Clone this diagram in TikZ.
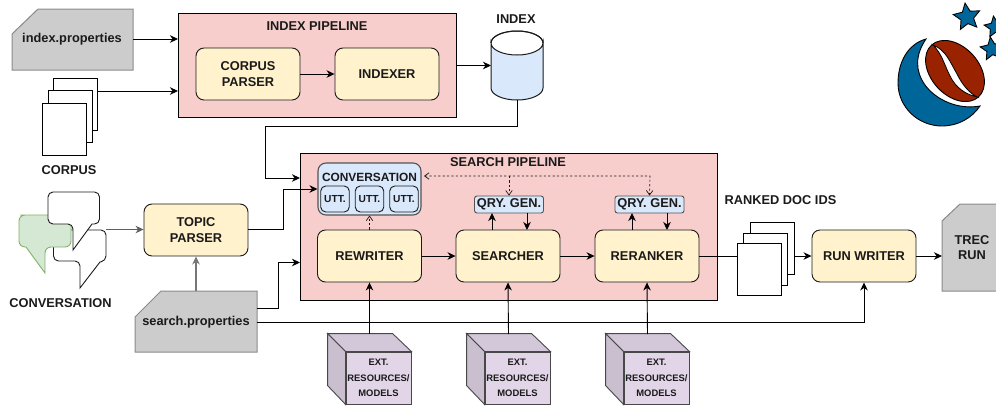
\documentclass[tikz,border=0pt]{standalone}
\usepackage{fontspec}
\setmainfont{Liberation Sans}
\usetikzlibrary{arrows.meta,calc,shapes.geometric}
\definecolor{ink}{HTML}{1A1A1A}
\definecolor{pinkF}{HTML}{F8CECC}
\definecolor{yelF}{HTML}{FFF2CC}
\definecolor{bluF}{HTML}{DAE8FC}
\definecolor{grayF}{HTML}{CCCCCC}
\definecolor{grayL}{HTML}{8A8A8A}
\definecolor{purF}{HTML}{E1D5E7}
\definecolor{purT}{HTML}{D3C8DA}
\definecolor{purS}{HTML}{C9BFCF}
\definecolor{greF}{HTML}{D5E8D4}
\definecolor{greL}{HTML}{82B366}
\definecolor{logoB}{HTML}{006699}
\definecolor{logoR}{HTML}{992200}
\tikzset{
  x=1pt,y=-1pt,
  lab/.style={font=\fontsize{12.8}{14.5}\selectfont\bfseries,text=ink,align=center,inner sep=0pt},
  pipe/.style={draw=black,fill=pinkF,line width=0.9pt,inner sep=0pt},
  proc/.style={lab,draw=ink,fill=yelF,rounded corners=8pt,line width=0.9pt,minimum width=104pt,minimum height=52pt},
  qry/.style={lab,draw=ink!75,fill=bluF,rounded corners=2.5pt,line width=0.9pt,minimum width=69pt,minimum height=17pt},
  utt/.style={lab,font=\fontsize{10.2}{11}\selectfont\bfseries,draw=ink,fill=bluF,rounded corners=5pt,line width=0.9pt,minimum width=28.5pt,minimum height=26pt},
  doc/.style={draw=black,fill=white,line width=0.9pt,inner sep=0pt,minimum width=44pt,minimum height=52pt},
  card/.style={fill=grayF,draw=grayL,line width=1pt},
  ext/.style={lab,font=\fontsize{9.4}{15.5}\selectfont\bfseries,draw=ink!80,fill=purF,line width=0.9pt,minimum width=65pt,minimum height=52pt},
  link/.style={draw=black,line width=0.9pt,-{Stealth[length=8pt,width=7.5pt,inset=2.5pt]}},
  glink/.style={link,draw=ink!70},
  dlink/.style={draw=ink,line width=0.7pt,dash pattern=on 2.2pt off 2.2pt},
  star5/.style={star,star points=5,star point ratio=2.1,fill=logoB,draw=black,line width=0.9pt,inner sep=0pt,minimum size=#1},
}
\begin{document}
\begin{tikzpicture}
\clip (0,0) rectangle (996,405);
% pipelines
\node[pipe,minimum width=278pt,minimum height=104pt] (indexpipe) at (317,65) {};
\node[lab] (indextitle) at (317,26) {INDEX PIPELINE};
\node[pipe,minimum width=417pt,minimum height=147pt] (searchpipe) at (508.5,226.5) {};
\node[lab] (searchtitle) at (508,162) {SEARCH PIPELINE};
% index.properties
\draw[card] (12,34) -- (38,9) -- (133,9) -- (133,70) -- (12,70) -- cycle;
\node[lab] (ip) at (72,39.5) {index.properties};
% corpus docs
\node[doc] (c3) at (75,104) {};
\node[doc] (c2) at (70,116) {};
\node[doc] (c1) at (64,129) {};
\node[lab] (corpuslab) at (69,170) {CORPUS};
% index pipeline contents
\node[proc] (corpusparser) at (248,74) {CORPUS\\[1pt]PARSER};
\node[proc] (indexer) at (387,74) {INDEXER};
% cylinder
\coordinate (idxL) at (491,65.5);
\coordinate (idxB) at (517,100);
\draw[fill=bluF,draw=ink,line width=1pt] (491,43) arc[start angle=180,end angle=360,x radius=26,y radius=-12]
  -- (543,88) arc[start angle=0,end angle=-180,x radius=26,y radius=-12] -- cycle;
\draw[draw=ink,line width=1pt] (491,43) arc[start angle=180,end angle=0,x radius=26,y radius=-12];
\draw[draw=ink,line width=1pt] (491,43) arc[start angle=180,end angle=360,x radius=26,y radius=12];
\node[lab] (indexlab) at (516,19) {INDEX};
% conversation icon
\draw[draw=ink,fill=white,line width=0.9pt,rounded corners=5pt] (53.5,245) -- (53.5,261) -- (80,261)
  [sharp corners] -- (80,288) -- (100,262)
  [rounded corners=5pt] -- (106,261) -- (106,230) -- (53.5,230) -- cycle;
\draw[draw=greL,fill=greF,line width=0.9pt] (26,215) -- (64,215) [rounded corners=6pt] -- (71,215) -- (71,247) -- (45,247)
  [sharp corners] -- (45,273) -- (26,247) [rounded corners=6pt] -- (19,247) -- (19,215) -- cycle;
\draw[draw=ink,fill=white,line width=0.9pt,rounded corners=5pt] (48,205) -- (48,224) -- (73,224)
  [sharp corners] -- (73,250) -- (92,224)
  [rounded corners=5pt] -- (99.5,224) -- (99.5,192) -- (48,192) -- cycle;
\coordinate (bubbleout) at (106,229.5);
\node[lab] (convlab) at (60.5,303) {CONVERSATION};
% topic parser & search.properties
\node[proc] (topic) at (196,230) {TOPIC\\[1pt]PARSER};
\draw[card] (135,317) -- (161,291) -- (257,291) -- (257,352) -- (135,352) -- cycle;
\node[lab] (sp) at (196,322) {search.properties};
\coordinate (spT) at (196,291);
\coordinate (spU) at (257,308);
\coordinate (spD) at (257,322);
% conversation box
\node[draw=ink!75,fill=bluF,rounded corners=8pt,line width=1.1pt,minimum width=103pt,minimum height=52pt,inner sep=0pt] (conv) at (369.5,189) {};
\node[lab,font=\fontsize{11.9}{13}\selectfont\bfseries] (convt) at (369.5,177) {CONVERSATION};
\node[utt] (u1) at (335,199) {UTT.};
\node[utt] (u2) at (369.5,199) {UTT.};
\node[utt] (u3) at (404,199) {UTT.};
% processors
\node[proc] (rewriter) at (369.5,256) {REWRITER};
\node[proc] (searcher) at (508,256) {SEARCHER};
\node[proc] (reranker) at (647,256) {RERANKER};
\node[qry] (q1) at (509,204.5) {QRY. GEN.};
\node[qry] (q2) at (649.5,204.5) {QRY. GEN.};
% ranked docs
\node[doc] (r3) at (772,248) {};
\node[doc] (r2) at (765,259) {};
\node[doc] (r1) at (759,269) {};
\node[lab] (rankedlab) at (780.5,200) {RANKED DOC IDS};
\node[proc] (runwriter) at (864,256) {RUN WRITER};
% TREC run
\draw[card] (942,221) -- (960,204) -- (1003,204) -- (1003,291) -- (942,291) -- cycle;
\node[lab] (trec) at (972,247.5) {TREC\\[1pt]RUN};
% cubes
\foreach \n/\cx in {a/378.5,b/517.5,c/656.5}{
  \node[ext] (ext\n) at (\cx,378) {EXT.\\RESOURCES/\\MODELS};
  \draw[draw=ink!80,fill=purT,line width=0.9pt] (ext\n.north west) -- ++(-18,-18) -- ++(65,0) -- (ext\n.north east) -- cycle;
  \draw[draw=ink!80,fill=purS,line width=0.9pt] (ext\n.north west) -- ++(-18,-18) -- ++(0,52) -- (ext\n.south west) -- cycle;
}
% connectors
\draw[link] (133,39) -- (178,39);
\draw[link] (97,91) -- (178,91);
\draw[link] (corpusparser) -- (indexer);
\draw[link] (457,65.5) -- (idxL);
\draw[link] (idxB) -- (517,126) -- (265.5,126) -- (265.5,178) -- (300,178);
\draw[glink] (bubbleout) -- (topic.west |- bubbleout);
\draw[link] (248,229.5) -- (283,229.5) -- (283,189) -- (conv.west);
\draw[link,draw=ink!60,line width=1.2pt] (spT) -- (topic.south);
\draw[link] (spU) -- (278,308) -- (278,262.5) -- (300,262.5);
\draw[link] (spD) -- (864,322) -- (runwriter.south);
\draw[link] (rewriter) -- (searcher);
\draw[link] (searcher) -- (reranker);
\draw[link] (369.5,334) -- (rewriter.south);
\draw[link] (508.5,334) -- (searcher.south);
\draw[link] (647.5,334) -- (reranker.south);
\draw[link] (492,230) -- (492,213);
\draw[link] (527,213) -- (527,230);
\draw[link] (632,230) -- (632,213);
\draw[link] (667,213) -- (667,230);
\draw[draw=black,line width=0.9pt] (reranker.east) -- (r1.west |- reranker.east);
\draw[link] (794,256) -- (runwriter.west);
\draw[link] (runwriter.east) -- (942,256);
% dashed
\draw[dlink,-{Straight Barb[length=4.5pt,width=6.5pt]}] (rewriter.north) -- (conv.south);
\draw[dlink,{Straight Barb[length=4.5pt,width=6.5pt]}-{Straight Barb[length=4.5pt,width=6.5pt]}] (424,176) -- (650,176) -- (q2.north);
\draw[dlink,-{Straight Barb[length=4.5pt,width=6.5pt]}] (509,176) -- (q1.north);
% logo
\draw[fill=logoB,draw=black,line width=0.9pt] (926,39)
  .. controls (908,44) and (898,62) .. (898,83)
  .. controls (898,107) and (918,126) .. (942,126)
  .. controls (958,126) and (972,118) .. (980,106)
  .. controls (958,110) and (936,100) .. (925,85)
  .. controls (915,71) and (915,55) .. (926,39) -- cycle;
\draw[fill=logoR,draw=black,line width=0.9pt,rotate around={-48:(955,71)}] (955,71) ellipse[x radius=35,y radius=24];
\draw[fill=white,draw=black,line width=0.8pt] (933,45)
  .. controls (946,50) and (950,62) .. (957,74)
  .. controls (962,84) and (968,92) .. (977,97)
  .. controls (965,94) and (956,88) .. (950,76)
  .. controls (944,64) and (942,54) .. (933,45) -- cycle;
\node[star5=28pt,shape border rotate=8] (s1) at (967,17) {};
\node[star5=22pt,shape border rotate=8] (s2) at (995,27) {};
\node[star5=24pt,shape border rotate=8] (s3) at (992,49) {};
\end{tikzpicture}
\end{document}
